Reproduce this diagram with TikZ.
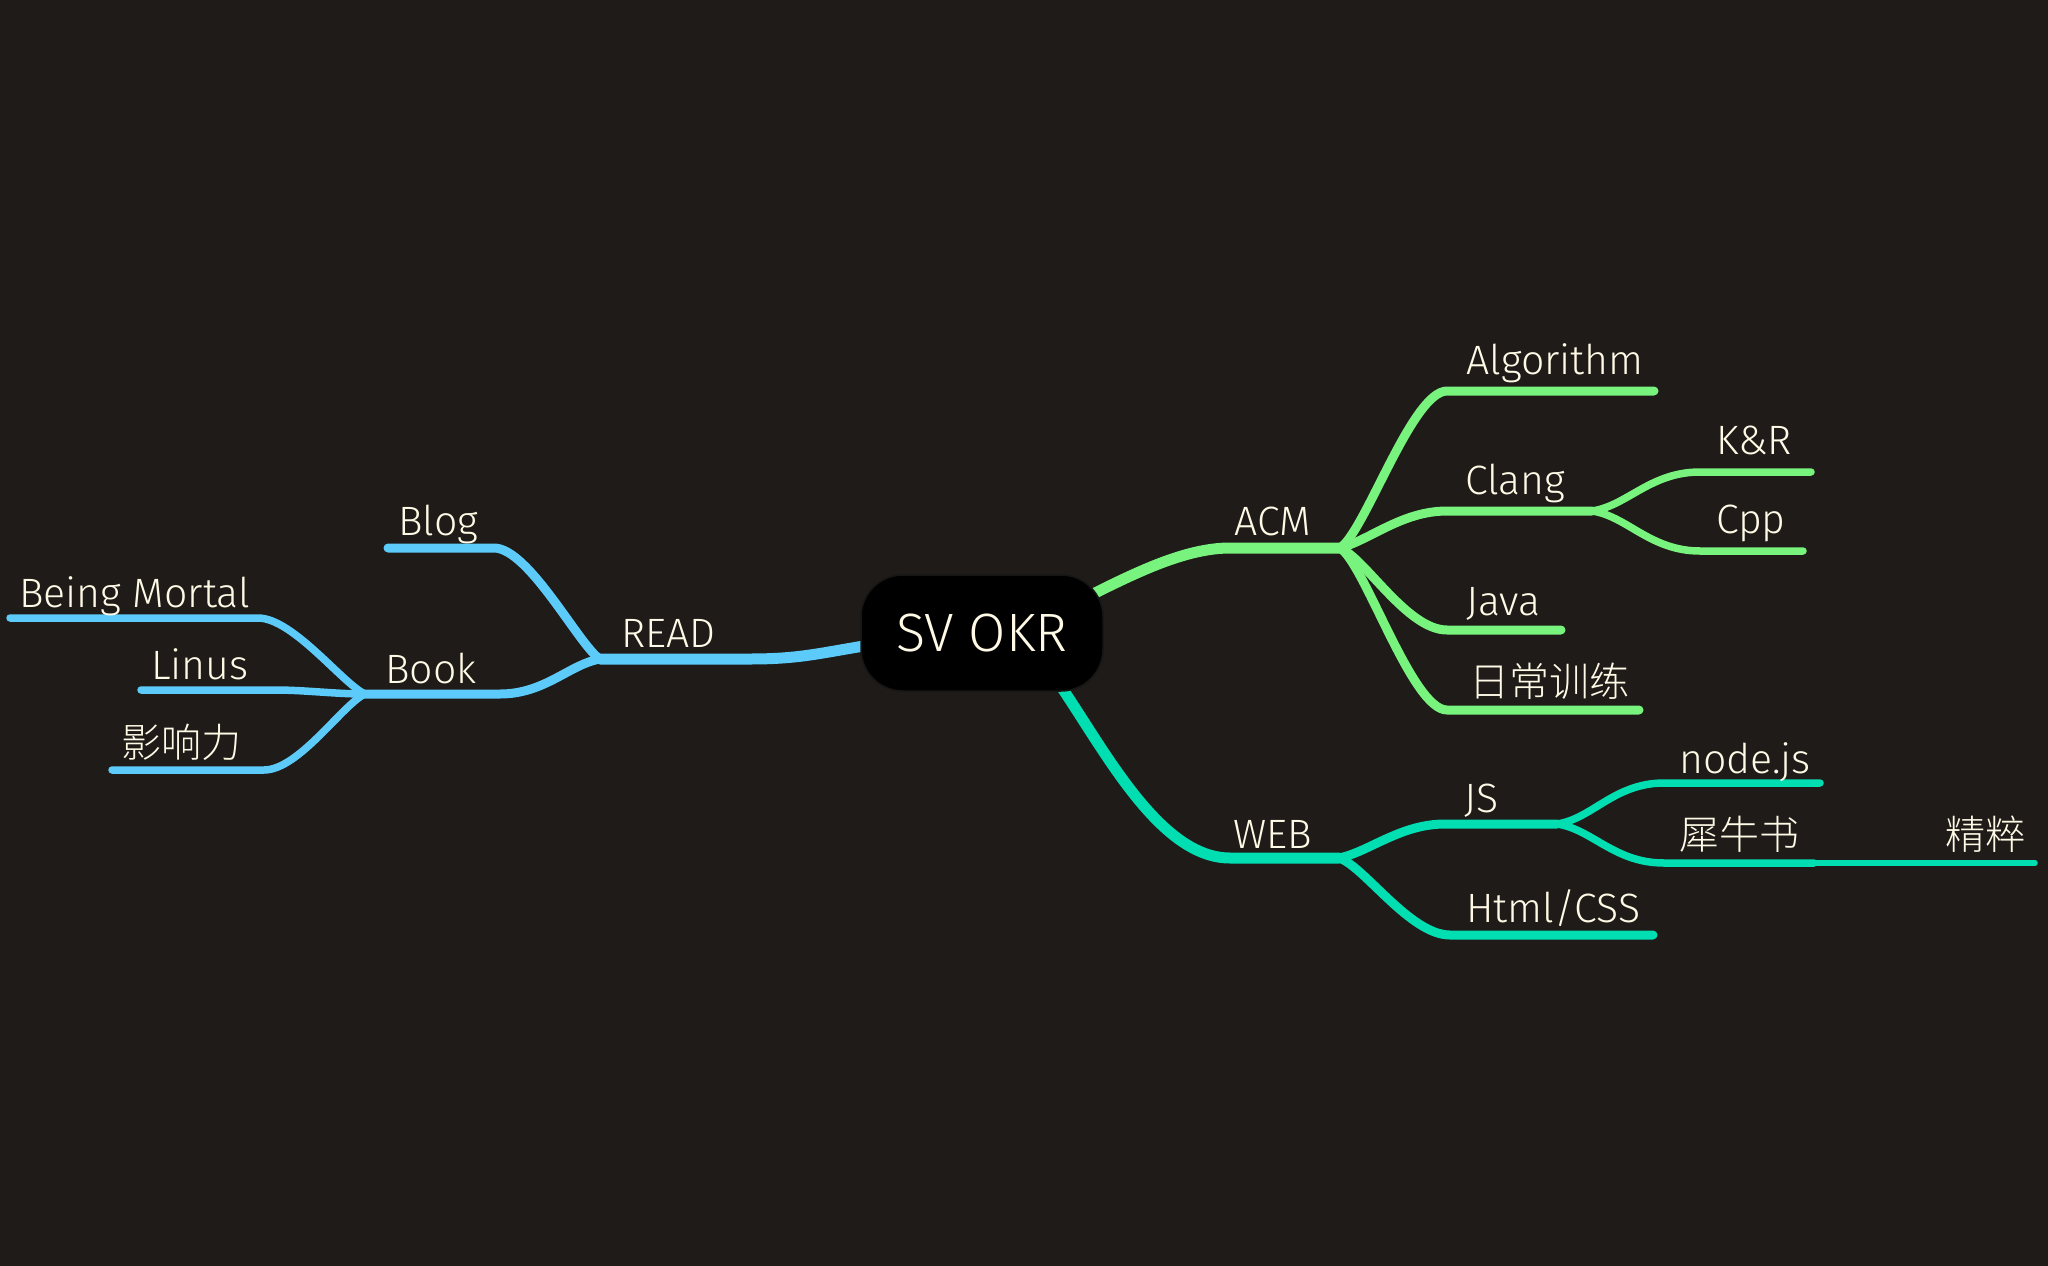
\documentclass[tikz,border=0pt]{standalone}
\usepackage{fontspec}
\setmainfont{Fira Sans}[UprightFont=* Light]
\newfontfamily\cjk{Noto Sans CJK SC}[UprightFont=* Light]
\definecolor{bg}{RGB}{30,27,24}
\definecolor{txt}{RGB}{255,250,230}
\definecolor{grn}{RGB}{120,243,125}
\definecolor{tea}{RGB}{0,222,178}
\definecolor{blu}{RGB}{92,203,250}
\tikzset{
  br/.style={line cap=round, line join=round},
  lv1/.style={br, line width=11pt},
  lv2/.style={br, line width=9pt},
  lv3/.style={br, line width=7.5pt},
  lv4/.style={br, line width=5.5pt},
  lbl/.style={text=txt, font=\fontsize{41}{43}\selectfont, anchor=base west, inner sep=0pt},
  clbl/.style={text=txt, font=\cjk\fontsize{40}{42}\selectfont, anchor=base west, inner sep=0pt},
  rootbox/.style={draw={rgb,255:red,22;green,22;blue,22}, line width=1.5pt, fill=black, rounded corners=42pt,
    minimum width=242pt, minimum height=116pt, inner sep=0pt, text=txt, font=\fontsize{54}{56}\selectfont}
}
\begin{document}
\begin{tikzpicture}[x=1pt,y=-1pt]
\fill[bg] (0,0) rectangle (2048,1266);
\useasboundingbox (0,0) rectangle (2048,1266);
% ---- coordinates
\coordinate (acmS) at (1085,598); \coordinate (acmH) at (1230,548); \coordinate (acmJ) at (1340,548);
\coordinate (algS) at (1447,391); \coordinate (algE) at (1654,391);
\coordinate (clgS) at (1447,511); \coordinate (clgJ) at (1592,511);
\coordinate (javS) at (1447,630); \coordinate (javE) at (1561,630);
\coordinate (rcxS) at (1447,710); \coordinate (rcxE) at (1639,710);
\coordinate (krS) at (1700,472); \coordinate (krE) at (1811,472);
\coordinate (cppS) at (1700,551); \coordinate (cppE) at (1803,551);
\coordinate (webS) at (1060,685); \coordinate (webH) at (1230,858); \coordinate (webJ) at (1339,858);
\coordinate (jsS) at (1445,824); \coordinate (jsJ) at (1557,824);
\coordinate (htmS) at (1450,935); \coordinate (htmE) at (1653,935);
\coordinate (ndS) at (1664,783); \coordinate (ndE) at (1820,783);
\coordinate (xnS) at (1664,863); \coordinate (xnJ) at (1814,863);
\coordinate (jcE) at (2035,863);
\coordinate (readS) at (870,645); \coordinate (readH) at (750,659); \coordinate (readJ) at (600,659);
\coordinate (blogS) at (494,548); \coordinate (blogE) at (388,548);
\coordinate (bookS) at (500,694); \coordinate (bookJ) at (365,694);
\coordinate (bmS) at (258,618); \coordinate (bmE) at (10,618);
\coordinate (linS) at (275,690); \coordinate (linE) at (141,690);
\coordinate (yxS) at (264,770); \coordinate (yxE) at (112,770);
% ---- ACM branch
\draw[grn,lv1] (acmS) .. controls +(50,-25) and +(-45,0) .. (acmH) -- (acmJ);
\draw[grn,lv2] (acmJ) .. controls +(25,-16) and +(-35,0) .. (algS) -- (algE);
\draw[grn,lv2] (acmJ) .. controls +(30,-8) and +(-45,0) .. (clgS) -- (clgJ);
\draw[grn,lv2] (acmJ) .. controls +(25,10) and +(-40,0) .. (javS) -- (javE);
\draw[grn,lv2] (acmJ) .. controls +(25,16) and +(-35,0) .. (rcxS) -- (rcxE);
\draw[grn,lv3] (clgJ) .. controls +(35,-5) and +(-50,0) .. (krS) -- (krE);
\draw[grn,lv3] (clgJ) .. controls +(35,5) and +(-50,0) .. (cppS) -- (cppE);
% ---- WEB branch
\draw[tea,lv1] (webS) .. controls +(45,66) and +(-70,0) .. (webH) -- (webJ);
\draw[tea,lv2] (webJ) .. controls +(30,-6) and +(-45,0) .. (jsS) -- (jsJ);
\draw[tea,lv2] (webJ) .. controls +(25,8) and +(-40,0) .. (htmS) -- (htmE);
\draw[tea,lv3] (jsJ) .. controls +(35,-5) and +(-50,0) .. (ndS) -- (ndE);
\draw[tea,lv3] (jsJ) .. controls +(35,5) and +(-50,0) .. (xnS) -- (xnJ);
\draw[tea,lv4] (xnJ) -- (jcE);
% ---- READ branch
\draw[blu,lv1] (readS) .. controls +(-50,8) and +(50,0) .. (readH) -- (readJ);
\draw[blu,lv2] (readJ) .. controls +(-20,-12) and +(35,0) .. (blogS) -- (blogE);
\draw[blu,lv2] (readJ) .. controls +(-30,5) and +(45,0) .. (bookS) -- (bookJ);
\draw[blu,lv3] (bookJ) .. controls +(-22,-10) and +(35,0) .. (bmS) -- (bmE);
\draw[blu,lv3] (bookJ) .. controls +(-30,0) and +(30,0) .. (linS) -- (linE);
\draw[blu,lv3] (bookJ) .. controls +(-22,10) and +(35,0) .. (yxS) -- (yxE);
% ---- root
\node[rootbox] (root) at (982,633) {SV OKR};
% ---- labels
\node[lbl] (acm) at (1234,535) {ACM};
\node[lbl] (alg) at (1466,374) {Algorithm};
\node[lbl] (clg) at (1465,494) {Clang};
\node[lbl] (kr) at (1716,454) {K\&R};
\node[lbl] (cpp) at (1716,533) {Cpp};
\node[lbl] (jav) at (1466,615) {Java};
\node[clbl] (rcx) at (1469,696) {日常训练};
\node[lbl] (web) at (1233,848) {WEB};
\node[lbl] (js) at (1464,812) {JS};
\node[lbl] (nd) at (1679,773) {node.js};
\node[clbl] (xn) at (1679,849) {犀牛书};
\node[clbl] (jc) at (1945,849) {精粹};
\node[lbl] (htm) at (1466,922) {Html/CSS};
\node[lbl] (read) at (621,647) {READ};
\node[lbl] (blog) at (398,535) {Blog};
\node[lbl] (book) at (385,683) {Book};
\node[lbl] (bm) at (19,607) {Being Mortal};
\node[lbl] (lin) at (151,679) {Linus};
\node[clbl] (yx) at (121,757) {影响力};
\end{tikzpicture}
\end{document}
